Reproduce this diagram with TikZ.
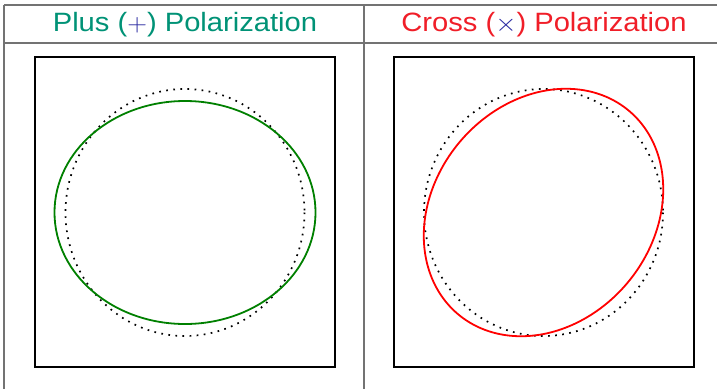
\documentclass[tikz,border=0pt]{standalone}
\usepackage{fontspec}
\setmainfont{Liberation Sans}
\usepackage{graphicx}
\definecolor{teal1}{RGB}{0,146,118}
\definecolor{red1}{RGB}{240,30,40}
\definecolor{blue1}{RGB}{40,40,160}
\definecolor{green1}{RGB}{0,128,0}
\definecolor{grid1}{RGB}{115,115,115}
\begin{document}
\begin{tikzpicture}[x=1pt,y=-1pt,
  gridline/.style={draw=grid1,line width=1.4pt},
  plotbox/.style={draw=black,line width=1.7pt},
  refcircle/.style={draw=black,line width=1.7pt,dash pattern=on 1.7pt off 5.4pt},
  waveline/.style={line width=1.8pt},
  header/.style={font=\fontsize{26.5}{29}\selectfont,inner sep=0pt,anchor=base}]
\useasboundingbox (0,0) rectangle (717,389);
% table lines
\draw[gridline] (4,5) -- (717,5);
\draw[gridline] (4,43) -- (717,43);
\draw[gridline] (4,5) -- (4,389);
\draw[gridline] (364,5) -- (364,389);
% headers
\node[header,text=teal1] (hplus) at (185,31.5) {\scalebox{1.1}[1]{Plus (\textcolor{blue1}{$+$}) Polarization}};
\node[header,text=red1] (hcross) at (544,31.5) {\scalebox{1.1}[1]{Cross (\textcolor{blue1}{$\times$}) Polarization}};
% boxes
\draw[plotbox] (35,57) rectangle (335,367);
\draw[plotbox] (394,57) rectangle (694,367);
% plus panel
\coordinate (cp) at (185,212.5);
\draw[refcircle] (cp) ellipse [x radius=119.5, y radius=123.5];
\draw[waveline,green1] (cp) ellipse [x radius=130.5, y radius=111.5];
% cross panel
\coordinate (cc) at (543.5,212.5);
\draw[refcircle] (cc) ellipse [x radius=119.5, y radius=123.5];
\draw[waveline,red] plot[domain=0:360,samples=240,smooth,variable=\t]
  ({543.5+119.5*0.70711*(1.092*cos(\t)-0.903*sin(\t))},
   {212.5-123.5*0.70711*(1.092*cos(\t)+0.903*sin(\t))}) -- cycle;
\end{tikzpicture}
\end{document}
